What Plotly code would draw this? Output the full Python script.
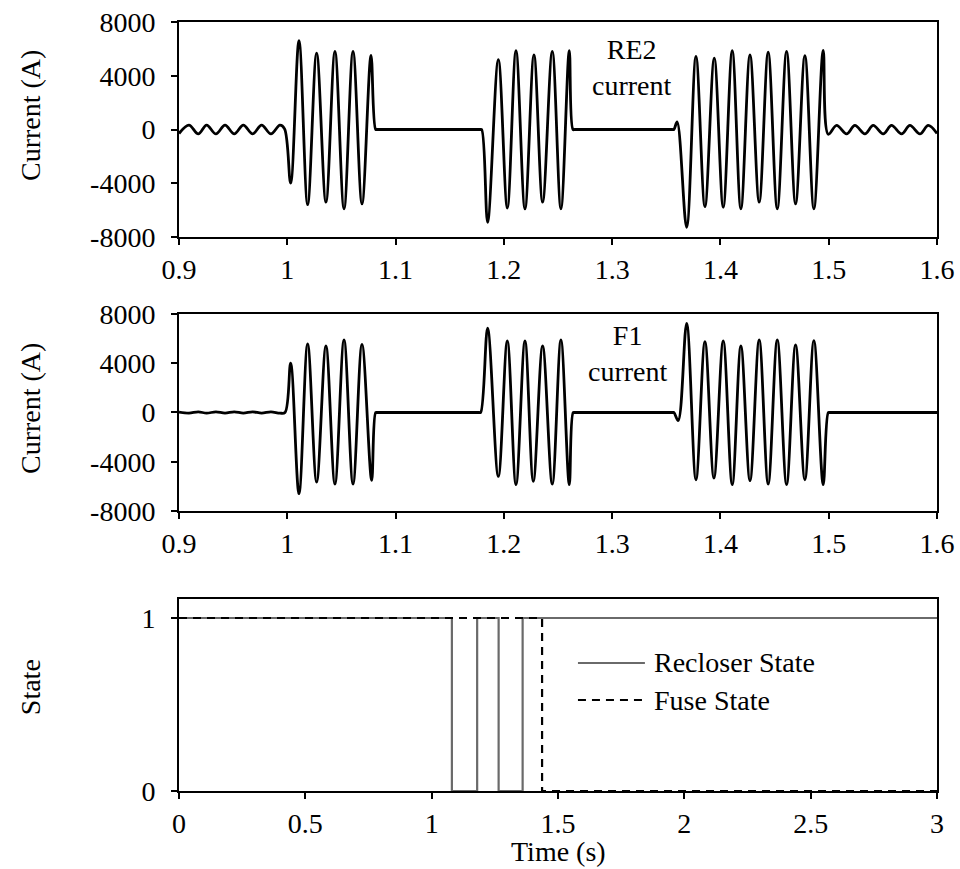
import plotly.graph_objects as go

# ---------------- data ----------------
# RE2 current (A): extrema / corner points of the waveform
re2_t = [0.9000, 0.9092, 0.9178, 0.9255, 0.9341, 0.9425, 0.9510, 0.9594, 0.9680, 0.9763, 0.9849, 0.9932, 0.9975,
         1.0031, 1.0108, 1.0188, 1.0271, 1.0357, 1.0440, 1.0524, 1.0607, 1.0690, 1.0773, 1.0816, 1.0830,
         1.1780, 1.1795,
         1.1850, 1.1949, 1.2032, 1.2112, 1.2195, 1.2278, 1.2358, 1.2447, 1.2527, 1.2604, 1.2638, 1.2655,
         1.3555, 1.3570, 1.3600,
         1.3688, 1.3774, 1.3857, 1.3943, 1.4026, 1.4109, 1.4189, 1.4273, 1.4358, 1.4441, 1.4525, 1.4611,
         1.4694, 1.4780, 1.4863, 1.4949, 1.4996,
         1.5073, 1.5165, 1.5242, 1.5334, 1.5411, 1.5503, 1.5580, 1.5673, 1.5750, 1.5842, 1.5919, 1.6000]
re2_i = [-300, 330, -330, 330, -330, 330, -330, 330, -330, 330, -330, 330, 50,
         -3990, 6610, -5590, 5690, -5410, 5810, -5910, 5810, -5540, 5510, 0, 0,
         0, 0,
         -6900, 5190, -5840, 5860, -5910, 5560, -5410, 5810, -5910, 5860, 0, 0,
         0, 0, 570,
         -7280, 5440, -5740, 5310, -5790, 5860, -5910, 5560, -5410, 5760, -5910, 5810,
         -5540, 5490, -5910, 5890, -350,
         300, -330, 300, -330, 300, -330, 300, -330, 300, -330, 300, -300]

# F1 current (A)
f1_t = [0.9000, 0.9092, 0.9178, 0.9255, 0.9341, 0.9425, 0.9510, 0.9594, 0.9680, 0.9763, 0.9849, 0.9932, 0.9979,
        1.0031, 1.0108, 1.0188, 1.0271, 1.0357, 1.0440, 1.0524, 1.0607, 1.0690, 1.0779, 1.0816, 1.0830,
        1.1770, 1.1786,
        1.1850, 1.1949, 1.2032, 1.2112, 1.2195, 1.2272, 1.2358, 1.2447, 1.2527, 1.2604, 1.2640, 1.2655,
        1.3555, 1.3570, 1.3610,
        1.3688, 1.3774, 1.3857, 1.3940, 1.4026, 1.4109, 1.4189, 1.4273, 1.4358, 1.4441, 1.4525, 1.4611,
        1.4694, 1.4780, 1.4863, 1.4949, 1.4996, 1.5010, 1.6000]
f1_i = [40, -50, 50, -50, 50, -50, 50, -50, 50, -50, 50, -50, 0,
        4000, -6590, 5570, -5650, 5400, -5810, 5890, -5810, 5540, -5510, 0, 0,
        0, 0,
        6840, -5190, 5810, -5860, 5810, -5590, 5400, -5810, 5890, -5860, 0, 0,
        0, 0, -650,
        7240, -5460, 5760, -5320, 5810, -5860, 5400, -5540, 5890, -5810, 5890, -5860,
        5490, -5460, 5840, -5860, 0, 0, 0]

# Device states (step changes)
recloser_t = [0, 1.08, 1.18, 1.265, 1.36, 3.0]
recloser_s = [1, 0, 1, 0, 1, 1]
fuse_t = [0, 1.437, 3.0]
fuse_s = [1, 0, 0]

current_ticks = [-8000, -4000, 0, 4000, 8000]
time_ticks_zoom = [0.9, 1.0, 1.1, 1.2, 1.3, 1.4, 1.5, 1.6]
time_ticks_full = [0, 0.5, 1, 1.5, 2, 2.5, 3]
state_ticks = [0, 1]

# ---------------- figure ----------------
FONT = "Liberation Serif, Times New Roman, serif"
FS = 28
fig = go.Figure()

fig.add_trace(go.Scatter(x=re2_t, y=re2_i, mode="lines", xaxis="x", yaxis="y",
                         line=dict(color="black", width=2.8, shape="spline", smoothing=1.0),
                         showlegend=False))
fig.add_trace(go.Scatter(x=f1_t, y=f1_i, mode="lines", xaxis="x2", yaxis="y2",
                         line=dict(color="black", width=2.8, shape="spline", smoothing=1.0),
                         showlegend=False))
fig.add_trace(go.Scatter(x=recloser_t, y=recloser_s, mode="lines", xaxis="x3", yaxis="y3",
                         name="Recloser State",
                         line=dict(color="#6a6a6a", width=2.2, shape="hv"), showlegend=False))
fig.add_trace(go.Scatter(x=fuse_t, y=fuse_s, mode="lines", xaxis="x3", yaxis="y3",
                         name="Fuse State",
                         line=dict(color="black", width=2.2, shape="hv", dash="8px,6px"),
                         showlegend=False))

axis_common = dict(showline=True, linecolor="black", linewidth=2, mirror=True,
                   ticks="outside", ticklen=6, tickwidth=1.5, tickcolor="black",
                   showgrid=False, zeroline=False, automargin=False,
                   tickfont=dict(family=FONT, size=FS, color="black"))
x_common = dict(ticklabelstandoff=0, **axis_common)
y_common = dict(ticklabelstandoff=10, **axis_common)

fig.update_layout(
    width=960, height=869,
    margin=dict(l=179, r=23, t=22, b=78, autoexpand=False),
    paper_bgcolor="white", plot_bgcolor="white",
    font=dict(family=FONT, size=FS, color="black"),
    xaxis=dict(domain=[0, 1], range=[0.9, 1.6], tickvals=time_ticks_zoom,
               ticktext=["0.9", "1", "1.1", "1.2", "1.3", "1.4", "1.5", "1.6"],
               anchor="y", **x_common),
    yaxis=dict(domain=[0.7204, 1.0], range=[-8000, 8000], tickvals=current_ticks,
               ticktext=[str(v) for v in current_ticks], anchor="x", **y_common),
    xaxis2=dict(domain=[0, 1], range=[0.9, 1.6], tickvals=time_ticks_zoom,
                ticktext=["0.9", "1", "1.1", "1.2", "1.3", "1.4", "1.5", "1.6"],
                anchor="y2", **x_common),
    yaxis2=dict(domain=[0.3641, 0.6203], range=[-8000, 8000], tickvals=current_ticks,
                ticktext=[str(v) for v in current_ticks], anchor="x2", **y_common),
    xaxis3=dict(domain=[0, 1], range=[0, 3], tickvals=time_ticks_full,
                ticktext=["0", "0.5", "1", "1.5", "2", "2.5", "3"],
                anchor="y3", **x_common),
    yaxis3=dict(domain=[0, 0.2497], range=[0, 1.11], tickvals=state_ticks,
                ticktext=["0", "1"], anchor="x3", **y_common),
)

ann_font = dict(family=FONT, size=FS, color="black")
annotations = [
    # y-axis titles
    dict(text="Current (A)", xref="paper", yref="paper", x=-0.1966, y=0.879,
         xanchor="center", yanchor="middle", textangle=-90, showarrow=False, font=ann_font),
    dict(text="Current (A)", xref="paper", yref="paper", x=-0.1966, y=0.498,
         xanchor="center", yanchor="middle", textangle=-90, showarrow=False, font=ann_font),
    dict(text="State", xref="paper", yref="paper", x=-0.1966, y=0.135,
         xanchor="center", yanchor="middle", textangle=-90, showarrow=False, font=ann_font),
    # x-axis title
    dict(text="Time (s)", xref="paper", yref="paper", x=0.5, y=-0.0793,
         xanchor="center", yanchor="middle", showarrow=False, font=ann_font),
    # waveform labels
    dict(text="RE2<br>current", xref="x", yref="y", x=1.3183, y=4640,
         xanchor="center", yanchor="middle", showarrow=False, font=ann_font),
    dict(text="F1<br>current", xref="x2", yref="y2", x=1.3146, y=4810,
         xanchor="center", yanchor="middle", showarrow=False, font=ann_font),
    # legend texts
    dict(text="Recloser State", xref="x3", yref="y3", x=1.872, y=0.74,
         xanchor="left", yanchor="middle", showarrow=False, font=ann_font),
    dict(text="Fuse State", xref="x3", yref="y3", x=1.872, y=0.526,
         xanchor="left", yanchor="middle", showarrow=False, font=ann_font),
]
fig.update_layout(annotations=annotations)

# legend sample lines
fig.add_shape(type="line", xref="x3", yref="y3", x0=1.579, x1=1.844, y0=0.74, y1=0.74,
              line=dict(color="#6a6a6a", width=2.2))
fig.add_shape(type="line", xref="x3", yref="y3", x0=1.579, x1=1.844, y0=0.526, y1=0.526,
              line=dict(color="black", width=2.2, dash="8px,6px"))

fig.write_html("out.html")
